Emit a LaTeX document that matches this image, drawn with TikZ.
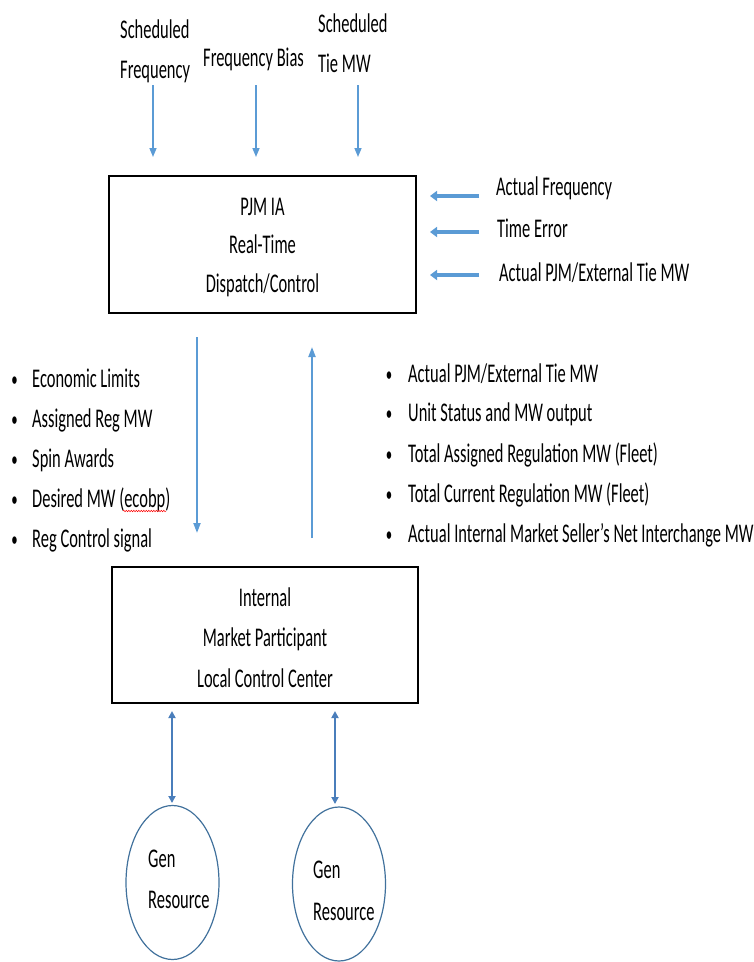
\documentclass[tikz,border=0pt]{standalone}
\usepackage{fontspec}
\setmainfont{Carlito}[FakeStretch=0.61]
\usetikzlibrary{arrows.meta,decorations.pathmorphing,shapes.geometric}
\definecolor{arrblue}{HTML}{5B9BD5}
\definecolor{dblue}{HTML}{4A7EBB}
\definecolor{cblue}{HTML}{41719C}
\begin{document}
\begin{tikzpicture}[x=1pt,y=-1pt,
  every node/.style={font=\fontsize{27}{30}\selectfont, inner sep=0pt},
  bigbox/.style={draw=black, line width=2.5pt, minimum width=307pt, minimum height=137pt},
  lbl/.style={anchor=base west},
  ctr/.style={anchor=base},
  bulletmark/.style={anchor=base, font=\fontsize{21}{24}\selectfont},
  genres/.style={draw=cblue, line width=1.2pt, ellipse, minimum width=93pt, minimum height=154pt},
  inarrow/.style={draw=arrblue, line width=1.5pt, -{Triangle[width=7pt,length=9pt]}},
  sidearrow/.style={draw=arrblue, line width=4pt, -{Triangle[width=10pt,length=7pt]}},
  midarrow/.style={draw=arrblue, line width=2pt, -{Triangle[width=7pt,length=10pt]}},
  dblarrow/.style={draw=dblue, line width=2.5pt, {Triangle[width=7pt,length=7pt]}-{Triangle[width=7pt,length=7pt]}},
]
\useasboundingbox (0,0) rectangle (753,962);

% top inputs
\node[lbl] (schf1) at (120,38) {Scheduled};
\node[lbl] (schf2) at (120,78) {Frequency};
\node[lbl] (fbias) at (203,66) {Frequency Bias};
\node[lbl] (scht1) at (318,32) {Scheduled};
\node[lbl] (scht2) at (318,72) {Tie MW};
\coordinate (a1s) at (153,85); \coordinate (a1e) at (153,157);
\coordinate (a2s) at (256,85); \coordinate (a2e) at (256,157);
\coordinate (a3s) at (358,85); \coordinate (a3e) at (358,157);
\draw[inarrow] (a1s) -- (a1e);
\draw[inarrow] (a2s) -- (a2e);
\draw[inarrow] (a3s) -- (a3e);

% PJM box
\node[bigbox] (pjm) at (262.5,244.5) {};
\node[ctr] (pjm1) at (262.5,215) {PJM IA};
\node[ctr] (pjm2) at (262.5,253) {Real-Time};
\node[ctr] (pjm3) at (262.5,292) {Dispatch/Control};

% right inputs
\node[lbl] (afreq) at (496,195) {Actual Frequency};
\node[lbl] (terr) at (497,237) {Time Error};
\node[lbl] (atie) at (499,281) {Actual PJM/External Tie MW};
\coordinate (r1s) at (479,196); \coordinate (r1e) at (430,196);
\coordinate (r2s) at (479,232); \coordinate (r2e) at (430,232);
\coordinate (r3s) at (479,275); \coordinate (r3e) at (430,275);
\draw[sidearrow] (r1s) -- (r1e);
\draw[sidearrow] (r2s) -- (r2e);
\draw[sidearrow] (r3s) -- (r3e);

% middle arrows
\coordinate (dns) at (197,337); \coordinate (dne) at (197,533);
\coordinate (ups) at (312,538); \coordinate (upe) at (312,347);
\draw[midarrow] (dns) -- (dne);
\draw[midarrow] (ups) -- (upe);

% left bullets
\foreach \y/\t [count=\i] in {387/{Economic Limits}, 427/{Assigned Reg MW}, 467/{Spin Awards}, 507/{Desired MW (ecobp)}, 547/{Reg Control signal}}{
  \node[bulletmark] (lb\i) at (14.5,\y-1) {•};
  \node[lbl] (lt\i) at (32,\y) {\t};
}
\coordinate (sq1) at (123,511); \coordinate (sq2) at (166,511);
\draw[red, line width=0.5pt, decorate, decoration={snake, amplitude=0.7pt, segment length=2.5pt}] (sq1) -- (sq2);

% right bullets
\foreach \y/\t [count=\i] in {382/{Actual PJM/External Tie MW}, 421/{Unit Status and MW output}, 462/{Total Assigned Regulation MW (Fleet)}, 502/{Total Current Regulation MW (Fleet)}, 542/{Actual Internal Market Seller’s Net Interchange MW}}{
  \node[bulletmark] (rb\i) at (389,\y-1) {•};
  \node[lbl] (rt\i) at (408,\y) {\t};
}

% bottom box
\node[bigbox, minimum width=306pt, minimum height=136pt] (mp) at (265,635) {};
\node[ctr] (mp1) at (265,606) {Internal};
\node[ctr] (mp2) at (265,646) {Market Participant};
\node[ctr] (mp3) at (265,687) {Local Control Center};

% gen resources
\node[genres] (g1) at (172.5,882.5) {};
\node[genres] (g2) at (339,884) {};
\node[lbl] (g1a) at (148,867) {Gen};
\node[lbl] (g1b) at (148,908) {Resource};
\node[lbl] (g2a) at (313,878) {Gen};
\node[lbl] (g2b) at (313,920) {Resource};

\coordinate (d1s) at (172,711); \coordinate (d1e) at (172,803);
\coordinate (d2s) at (335,711); \coordinate (d2e) at (335,804);
\draw[dblarrow] (d1s) -- (d1e);
\draw[dblarrow] (d2s) -- (d2e);
\end{tikzpicture}
\end{document}
